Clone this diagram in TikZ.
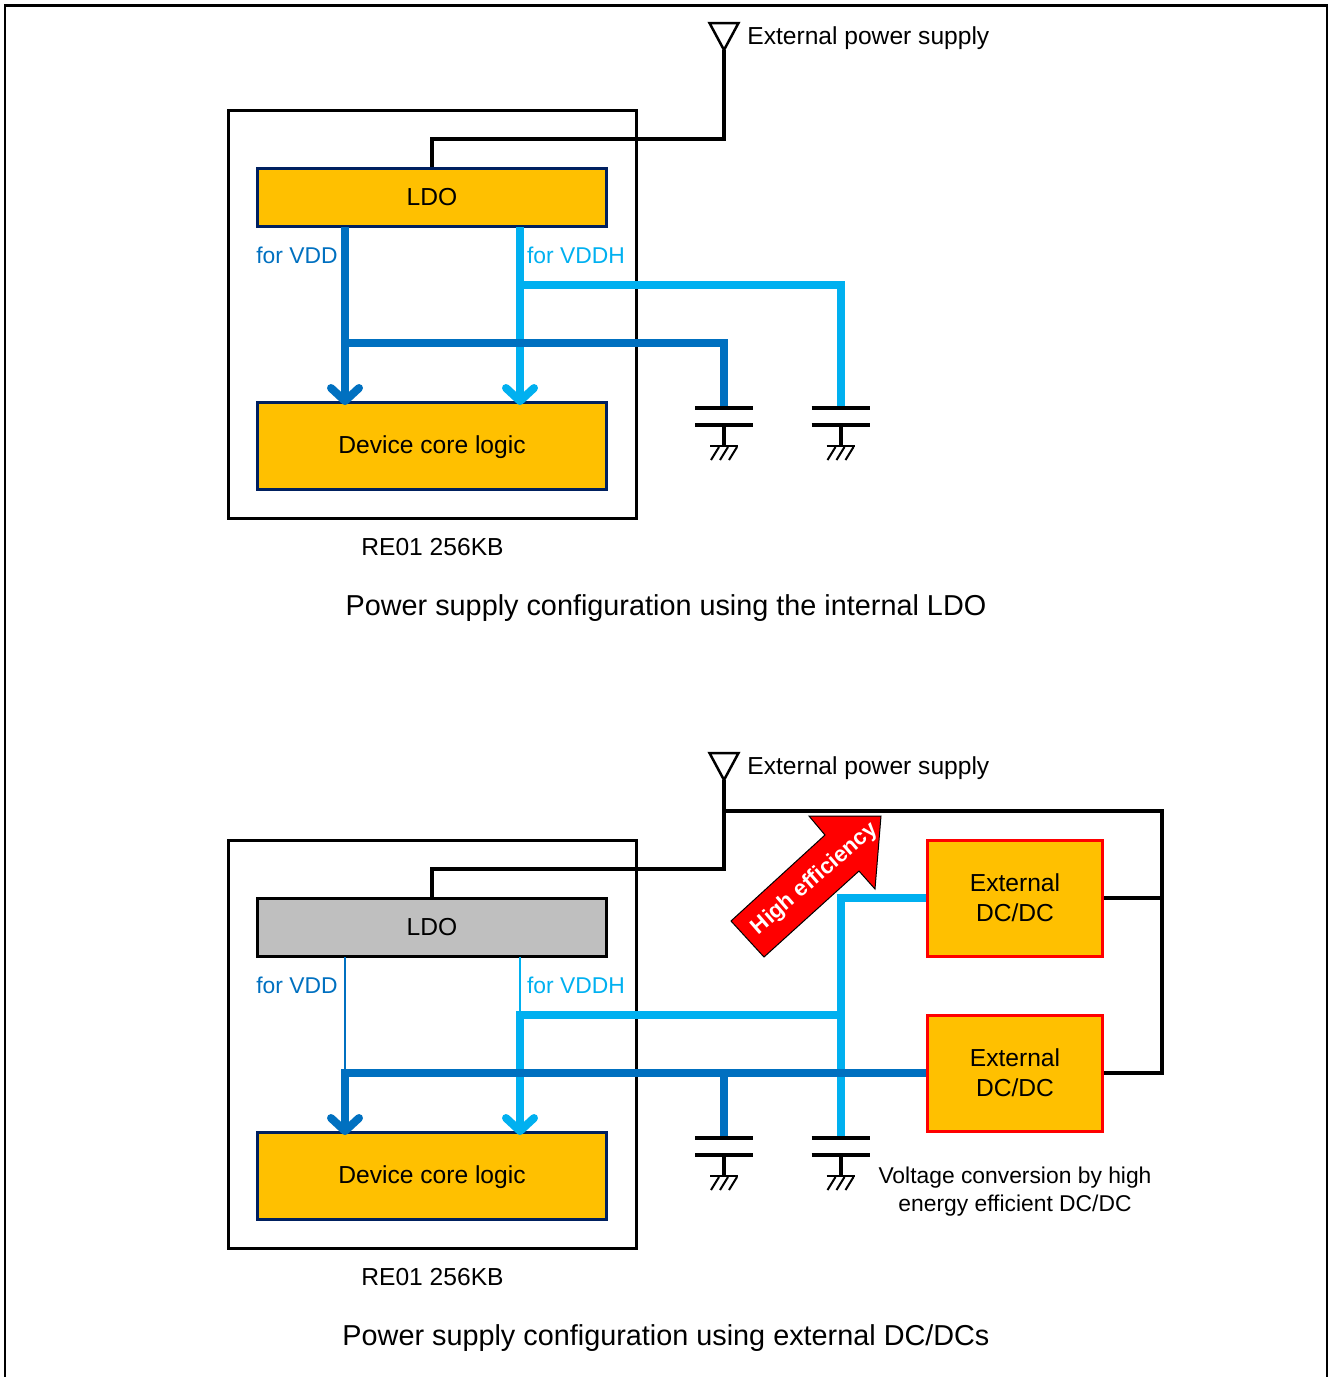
\documentclass[tikz,border=0pt]{standalone}
\usepackage{fontspec}
\setmainfont{Liberation Sans}
\usetikzlibrary{arrows.meta,positioning}
\definecolor{Amber}{HTML}{FFC000}
\definecolor{Navy}{HTML}{002060}
\definecolor{VddBlue}{HTML}{0070C0}
\definecolor{VddhBlue}{HTML}{00B0F0}
\definecolor{Idle}{HTML}{BFBFBF}
\tikzset{
  wire/.style={line width=.08cm},
  thinwire/.style={line width=.03cm},
  rail/.style={line width=.16cm},
  railarrow/.style={rail,-{Straight Barb[round,length=.26cm,width=.56cm]}},
  block/.style={draw=Navy,fill=Amber,line width=.06cm,font=\fontsize{14}{17}\selectfont,minimum width=7cm,inner sep=0pt,text height=.3cm,text depth=0cm},
  dcdc/.style={draw=red,fill=Amber,line width=.06cm,font=\fontsize{14}{17}\selectfont,align=center,minimum width=3.52cm,minimum height=2.32cm,inner sep=0pt},
  label/.style={font=\fontsize{14}{17}\selectfont,inner sep=0pt,align=center},
  railname/.style={font=\fontsize{13}{16}\selectfont,inner sep=0pt},
  caption/.style={font=\fontsize{16.4}{20}\selectfont,inner sep=0pt}
}
\begin{document}
\begin{tikzpicture}[x=.02cm,y=-.02cm]
\useasboundingbox (0,0) rectangle (1328,1377);
\draw[line width=.06cm] (5,1377) -- (5,5) -- (1327,5) -- (1327,1377);

% internal LDO
\draw[line width=.06cm] (228,110) rectangle (636.5,518.5);
\node[block,minimum height=1.16cm] (ldoA) at (432,197.5) {LDO};
\node[block,minimum height=1.74cm] (coreA) at (432,446) {Device core logic};
\coordinate (supA) at (724,50);
\coordinate (capVddA) at (724,407);
\coordinate (capVddhA) at (840.5,407);
\draw[line width=.05cm] (709.5,23) -- (738.5,23) -- (supA) -- cycle;
\draw[wire] (supA) -- (724,139) -| (ldoA.north);
\node[label,anchor=west] (extA) at (747,38) {External power supply};
\draw[rail,VddhBlue] (520,285) -| (capVddhA);
\draw[railarrow,VddhBlue] (520,227) -- (520,405);
\draw[rail,VddBlue] (345,343) -| (capVddA);
\draw[railarrow,VddBlue] (345,227) -- (345,405);
\node[railname,text=VddBlue] (vddA) at (297,255) {for VDD};
\node[railname,text=VddhBlue] (vddhA) at (576,255) {for VDDH};
\node[label] (chipA) at (432.5,547) {RE01 256KB};
\node[caption] (capA) at (666,608) {Power supply configuration using the internal LDO};
\foreach \cx in {724,840.5} {
  \draw[wire] (\cx-29,408) -- (\cx+29,408);
  \draw[wire] (\cx-29,425) -- (\cx+29,425);
  \draw[wire] (\cx,425) -- (\cx,446);
  \draw[line width=.05cm] (\cx-14,446) -- (\cx+14,446);
  \foreach \dx in {-9,0,9}
    \draw[line width=.04cm] (\cx+\dx+4,447) -- (\cx+\dx-4,460);
}

% external DC/DC
\draw[line width=.06cm] (228,840) rectangle (636.5,1248.5);
\node[block,fill=Idle,draw=black,minimum height=1.16cm] (ldoB) at (432,927.5) {LDO};
\node[block,minimum height=1.74cm] (coreB) at (432,1176) {Device core logic};
\node[dcdc] (dcUp) at (1015,898) {External\\DC/DC};
\node[dcdc] (dcLow) at (1015,1073) {External\\DC/DC};
\coordinate (supB) at (724,780);
\coordinate (capVddB) at (724,1137);
\coordinate (capVddhB) at (840.5,1137);
\draw[line width=.05cm] (709.5,753) -- (738.5,753) -- (supB) -- cycle;
\draw[wire] (supB) -- (724,869) -| (ldoB.north);
\draw[wire] (724,811) -- (1162,811) |- (dcLow.east);
\draw[wire] (1162,898) -- (dcUp.east);
\node[label,anchor=west] (extB) at (747,768) {External power supply};
\draw[thinwire,VddBlue] (345,957) -- (345,1073);
\draw[thinwire,VddhBlue] (520,957) -- (520,1015);
\draw[rail,VddhBlue] (dcUp.west) -- (840.5,898) -- (capVddhB);
\draw[rail,VddhBlue] (520,1015) -- (840.5,1015);
\draw[railarrow,VddhBlue] (520,1011) -- (520,1135);
\draw[rail,VddBlue] (341,1073) -- (dcLow.west);
\draw[rail,VddBlue] (724,1073) -- (capVddB);
\draw[railarrow,VddBlue] (345,1073) -- (345,1135);
\node[railname,text=VddBlue] (vddB) at (297,985) {for VDD};
\node[railname,text=VddhBlue] (vddhB) at (576,985) {for VDDH};
\node[label] (chipB) at (432.5,1277) {RE01 256KB};
\node[caption] (capB) at (666,1338) {Power supply configuration using external DC/DCs};
\foreach \cx in {724,840.5} {
  \draw[wire] (\cx-29,1138) -- (\cx+29,1138);
  \draw[wire] (\cx-29,1155) -- (\cx+29,1155);
  \draw[wire] (\cx,1155) -- (\cx,1176);
  \draw[line width=.05cm] (\cx-14,1176) -- (\cx+14,1176);
  \foreach \dx in {-9,0,9}
    \draw[line width=.04cm] (\cx+\dx+4,1177) -- (\cx+\dx-4,1190);
}
\draw[fill=red,line width=.02cm] (881,816) -- (809,816) -- (825,835) -- (731,921) -- (764,957) -- (859,871) -- (875,889) -- cycle;
\node[text=white,rotate=41,inner sep=0pt,font=\fontsize{12.7}{15}\selectfont\bfseries] (eff) at (815,879) {High efficiency};
\node[label,font=\fontsize{13}{16}\selectfont] (conv) at (1015,1192) {Voltage conversion by high\\energy efficient DC/DC};
\end{tikzpicture}
\end{document}
